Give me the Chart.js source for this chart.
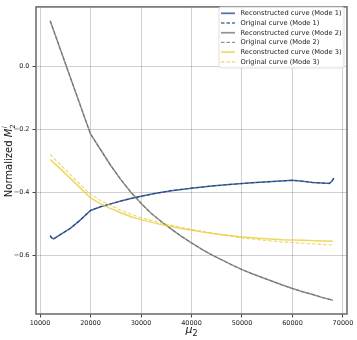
<!DOCTYPE html>
<html><head><meta charset="utf-8">
<script src="https://cdn.jsdelivr.net/npm/chart.js@4.4.0/dist/chart.umd.min.js"></script>
<style>html,body{margin:0;padding:0;background:#fff}#wrap{width:357px;height:340px;position:relative}</style>
</head><body><div id="wrap"><canvas id="c" width="357" height="340"></canvas></div>
<script>
// ---- data ----
const mu2Mode1 = [12000,12300,12700,14000,16000,18000,20000,22000,24000,26000,28000,30000,33000,36000,40000,44000,48000,52000,56000,60000,62000,64000,66000,67300,67800,68200];
const mode1Reconstructed = [-0.538,-0.545,-0.548,-0.535,-0.515,-0.488,-0.458,-0.446,-0.437,-0.428,-0.420,-0.413,-0.403,-0.395,-0.387,-0.380,-0.375,-0.370,-0.366,-0.362,-0.365,-0.369,-0.371,-0.372,-0.365,-0.355];
const mode1Original = [-0.538,-0.545,-0.548,-0.535,-0.515,-0.488,-0.458,-0.446,-0.437,-0.428,-0.420,-0.413,-0.403,-0.395,-0.387,-0.380,-0.375,-0.370,-0.366,-0.362,-0.365,-0.369,-0.371,-0.372,-0.365,-0.355];

const mu2Mode2 = [12000,14000,16000,18000,20000,22000,24000,26000,28000,30000,32000,34000,36000,38000,40000,42000,44000,46000,48000,50000,52000,54000,56000,58000,60000,62000,64000,66000,68000];
const mode2Reconstructed = [0.145,0.055,-0.035,-0.125,-0.215,-0.265,-0.315,-0.360,-0.400,-0.435,-0.467,-0.493,-0.517,-0.540,-0.561,-0.581,-0.599,-0.615,-0.631,-0.646,-0.659,-0.671,-0.683,-0.695,-0.706,-0.716,-0.725,-0.735,-0.743];
const mode2Original = [0.145,0.055,-0.035,-0.125,-0.215,-0.265,-0.315,-0.360,-0.400,-0.435,-0.467,-0.493,-0.517,-0.540,-0.561,-0.581,-0.599,-0.615,-0.631,-0.646,-0.659,-0.671,-0.683,-0.695,-0.706,-0.716,-0.725,-0.735,-0.743];

const mu2Mode3 = [12000,14000,16000,18000,20000,22000,24000,26000,28000,30000,34000,38000,42000,46000,50000,54000,58000,62000,66000,68000];
const mode3Reconstructed = [-0.296,-0.325,-0.356,-0.387,-0.418,-0.437,-0.452,-0.465,-0.478,-0.487,-0.503,-0.515,-0.526,-0.535,-0.542,-0.547,-0.551,-0.553,-0.555,-0.556];
const mode3Original = [-0.280,-0.312,-0.344,-0.376,-0.407,-0.426,-0.442,-0.457,-0.470,-0.481,-0.498,-0.512,-0.524,-0.535,-0.545,-0.552,-0.558,-0.562,-0.566,-0.568];

const xTicks = [10000,20000,30000,40000,50000,60000,70000];
const yTicks = [-0.6,-0.4,-0.2,0.0];
const seriesLabels = ['Reconstructed curve (Mode 1)','Original curve (Mode 1)','Reconstructed curve (Mode 2)','Original curve (Mode 2)','Reconstructed curve (Mode 3)','Original curve (Mode 3)'];

// ---- styles ----
const C1 = 'rgba(15,55,125,0.72)';
const C2 = 'rgba(105,105,102,0.72)';
const C3 = 'rgba(235,200,45,0.75)';
const colors = [C1,C1,C2,C2,C3,C3];
const dashes = [[],[3.5,2],[],[3.5,2],[],[3.5,2]];
const widths = [1.5,1.1,1.5,1.1,1.5,1.1];

const pairs = (xs, ys) => xs.map((x,i)=>({x:x,y:ys[i]}));
const seriesData = [
  pairs(mu2Mode1, mode1Reconstructed), pairs(mu2Mode1, mode1Original),
  pairs(mu2Mode2, mode2Reconstructed), pairs(mu2Mode2, mode2Original),
  pairs(mu2Mode3, mode3Reconstructed), pairs(mu2Mode3, mode3Original)
];

const datasets = seriesData.map((d,i)=>({
  label: seriesLabels[i], data: d, borderColor: colors[i], backgroundColor: colors[i],
  borderWidth: widths[i], borderDash: dashes[i], pointRadius: 0, tension: 0, fill: false,
  order: 6 - i
}));

const FONT = "'DejaVu Sans', sans-serif";

const extras = {
  id: 'extras',
  afterDatasetsDraw(chart) {
    const {ctx, chartArea: a} = chart;
    ctx.save();
    ctx.strokeStyle = '#707070';
    ctx.lineWidth = 1.6;
    ctx.strokeRect(a.left, a.top, a.right - a.left, a.bottom - a.top);
    ctx.restore();
  },
  afterDraw(chart) {
    const {ctx, chartArea: a} = chart;
    ctx.save();
    // legend
    const bx = 219, by = 7, bw = 125, bh = 61;
    ctx.fillStyle = 'rgba(255,255,255,0.85)';
    ctx.strokeStyle = '#d6d6d6';
    ctx.lineWidth = 0.8;
    ctx.beginPath();
    if (ctx.roundRect) ctx.roundRect(bx, by, bw, bh, 2); else ctx.rect(bx, by, bw, bh);
    ctx.fill(); ctx.stroke();
    ctx.font = '10px ' + FONT;
    const wRef = ctx.measureText(seriesLabels[0]).width;
    const fs = Math.min(7.3, 10 * 101 / wRef);
    ctx.font = fs.toFixed(2) + 'px ' + FONT;
    ctx.textBaseline = 'middle';
    ctx.textAlign = 'left';
    for (let i = 0; i < seriesLabels.length; i++) {
      const yy = 13.3 + i * 9.72;
      ctx.strokeStyle = colors[i];
      ctx.lineWidth = widths[i] + 0.2;
      ctx.setLineDash(dashes[i]);
      ctx.beginPath(); ctx.moveTo(221, yy); ctx.lineTo(235, yy); ctx.stroke();
      ctx.setLineDash([]);
      ctx.fillStyle = '#222';
      ctx.fillText(seriesLabels[i], 240.5, yy + 0.3);
    }
    // x axis title: mu_2
    ctx.fillStyle = '#111';
    ctx.textBaseline = 'alphabetic';
    const xc = (a.left + a.right) / 2;
    ctx.font = 'italic 11px ' + FONT;
    const muW = ctx.measureText('\u03bc').width;
    ctx.font = '8px ' + FONT;
    const subW = ctx.measureText('2').width;
    let x0 = xc - (muW + subW) / 2;
    ctx.font = 'italic 11px ' + FONT;
    ctx.fillText('\u03bc', x0, 333);
    ctx.font = '8px ' + FONT;
    ctx.fillText('2', x0 + muW, 336);
    // y axis title
    ctx.translate(12, (a.top + a.bottom) / 2);
    ctx.rotate(-Math.PI / 2);
    ctx.font = '10px ' + FONT;
    const t1 = 'Normalized ';
    const w1 = ctx.measureText(t1).width;
    ctx.font = 'italic 10px ' + FONT;
    const wM = ctx.measureText('M').width;
    const total = w1 + wM + 5;
    let sx = -total / 2;
    ctx.font = '10px ' + FONT;
    ctx.fillText(t1, sx, 0);
    ctx.font = 'italic 10px ' + FONT;
    ctx.fillText('M', sx + w1, 0);
    ctx.font = '7px ' + FONT;
    ctx.fillText('2', sx + w1 + wM, 2.5);
    ctx.font = 'italic 7px ' + FONT;
    ctx.fillText('i', sx + w1 + wM + 0.5, -5);
    ctx.restore();
  }
};

new Chart(document.getElementById('c'), {
  type: 'line',
  data: { datasets },
  plugins: [extras],
  options: {
    responsive: false, animation: false, devicePixelRatio: 1,
    layout: { padding: { top: 4, right: 10, left: 0, bottom: 0 } },
    plugins: { legend: { display: false }, tooltip: { enabled: false } },
    scales: {
      x: {
        type: 'linear', min: 9200, max: 70800,
        afterFit: s => { s.height = 26; },
        afterBuildTicks: s => { s.ticks = xTicks.map(v => ({ value: v })); },
        grid: { color: 'rgba(0,0,0,0.18)', lineWidth: 1, tickColor: '#444', tickLength: 3.5, drawTicks: true },
        border: { display: false },
        ticks: { font: { family: FONT, size: 6.5 }, color: '#222', padding: 2, maxRotation: 0,
                 callback: v => String(v) }
      },
      y: {
        type: 'linear', min: -0.787, max: 0.189,
        afterFit: s => { s.width = 36; },
        afterBuildTicks: s => { s.ticks = yTicks.map(v => ({ value: v })); },
        grid: { color: 'rgba(0,0,0,0.18)', lineWidth: 1, tickColor: '#444', tickLength: 3.5, drawTicks: true },
        border: { display: false },
        ticks: { font: { family: FONT, size: 6.5 }, color: '#222', padding: 3,
                 callback: v => (v < 0 ? '\u2212' + Math.abs(v).toFixed(1) : v.toFixed(1)) }
      }
    }
  }
});
</script></body></html>
